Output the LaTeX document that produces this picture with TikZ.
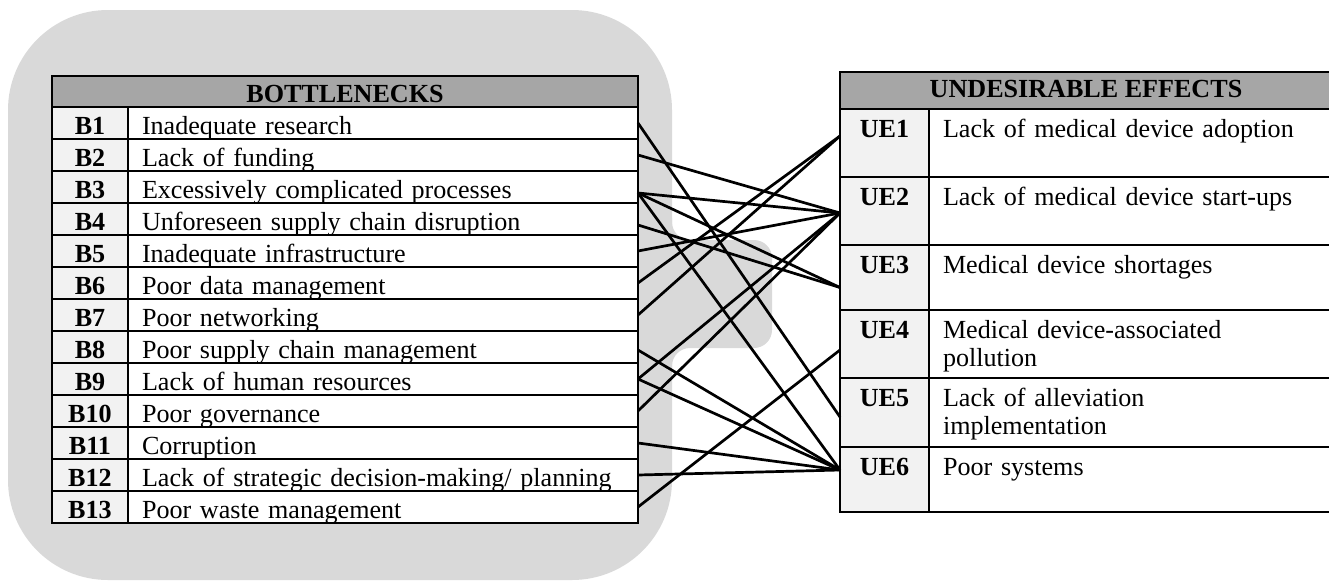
\documentclass[tikz,border=0pt]{standalone}
\usepackage{fontspec}
\setmainfont{Liberation Serif}
\definecolor{panelgray}{HTML}{D9D9D9}
\definecolor{headgray}{HTML}{A6A6A6}
\definecolor{idgray}{HTML}{F2F2F2}
\begin{document}
\begin{tikzpicture}[x=1pt,y=-1pt,
  txt/.style={font=\fontsize{26.1}{28.5}\selectfont},
  cell/.style={txt, draw=black, line width=2.5pt, anchor=north west,
    inner ysep=0pt, outer sep=0pt},
  headcell/.style={cell, fill=headgray, inner xsep=0pt,
    font=\fontsize{26.1}{28.5}\selectfont\bfseries},
  bid/.style={cell, fill=idgray, minimum width=76pt, inner xsep=0pt,
    text height=27pt, text depth=5pt, font=\fontsize{26.1}{28.5}\selectfont\bfseries},
  btext/.style={cell, fill=white, text width=482pt, inner xsep=14pt,
    text height=27pt, text depth=5pt, align=left},
  uid/.style={cell, fill=idgray, minimum width=89pt, inner xsep=0pt,
    text height=28pt, text depth=#1, font=\fontsize{26.1}{28.5}\selectfont\bfseries},
  utext/.style={cell, fill=white, text width=375pt, inner xsep=14pt,
    text height=28pt, text depth=#1, align=left},
  link/.style={draw=black, line width=2.7pt},
  panel/.style={fill=panelgray}
]
\useasboundingbox (0,0) rectangle (1329,584);
\clip (0,0) rectangle (1329,584);

% grey panel behind the bottleneck table, with a small tab on its right side
\fill[panel, rounded corners=100pt] (8,10) rectangle (672,580);
\fill[panel, rounded corners=18pt] (640,200) -- (672,200) -- (672,240)
  -- (772,240) -- (772,348) -- (672,348) -- (672,388) -- (640,388) -- cycle;

% bottlenecks table
\node[headcell, minimum width=586pt, text height=26pt, text depth=5pt] (bhead) at (52,76) {BOTTLENECKS};
\foreach \t [count=\i] in {Inadequate research, Lack of funding,
  Excessively complicated processes, Unforeseen supply chain disruption,
  Inadequate infrastructure, Poor data management, Poor networking,
  Poor supply chain management, Lack of human resources, Poor governance,
  Corruption, Lack of strategic decision-making/ planning, Poor waste management}{
  \node[bid] (bid\i) at (52,{107+32*(\i-1)}) {B\i};
  \node[btext] (b\i) at (128,{107+32*(\i-1)}) {\t};
}

% undesirable effects table
\node[headcell, minimum width=492pt, text height=25pt, text depth=12pt] (uhead) at (840,72) {UNDESIRABLE EFFECTS};
\node[uid=40pt] (ue1) at (840,109) {UE1};
\node[utext=40pt] (ue1t) at (929,109) {Lack of medical device adoption};
\node[uid=40pt] (ue2) at (840,177) {UE2};
\node[utext=40pt] (ue2t) at (929,177) {Lack of medical device start-ups};
\node[uid=37pt] (ue3) at (840,245) {UE3};
\node[utext=37pt] (ue3t) at (929,245) {Medical device shortages};
\node[uid=40pt] (ue4) at (840,310) {UE4};
\node[utext=40pt] (ue4t) at (929,310) {Medical device-associated\\pollution};
\node[uid=41pt] (ue5) at (840,378) {UE5};
\node[utext=41pt] (ue5t) at (929,378) {Lack of alleviation\\implementation};
\node[uid=37pt] (ue6) at (840,447) {UE6};
\node[utext=37pt] (ue6t) at (929,447) {Poor systems};

% links from bottlenecks to the effects they cause
\draw[link] (b1.east) -- ([yshift=-4.5pt]ue5.west);
\draw[link] (b2.east) -- ([yshift=-2pt]ue2.west);
\draw[link] ([yshift=-6pt]b3.east) -- ([yshift=-2pt]ue2.west);
\draw[link] ([yshift=-6pt]b3.east) -- ([yshift=-10pt]ue3.west);
\draw[link] ([yshift=-6pt]b3.east) -- ([yshift=9.5pt]ue6.west);
\draw[link] ([yshift=-6pt]b4.east) -- ([yshift=-10pt]ue3.west);
\draw[link] (b5.east) -- ([yshift=-2pt]ue2.west);
\draw[link] (b6.east) -- ([yshift=7pt]ue1.west);
\draw[link] (b7.east) -- ([yshift=7pt]ue1.west);
\draw[link] ([yshift=-3pt]b8.east) -- ([yshift=9.5pt]ue6.west);
\draw[link] (b9.east) -- ([yshift=-2pt]ue2.west);
\draw[link] (b9.east) -- ([yshift=9.5pt]ue6.west);
\draw[link] (b10.east) -- ([yshift=-2pt]ue2.west);
\draw[link] (b11.east) -- ([yshift=9.5pt]ue6.west);
\draw[link] (b12.east) -- ([yshift=9.5pt]ue6.west);
\draw[link] (b13.east) -- ([yshift=-6pt]ue4.west);
\end{tikzpicture}
\end{document}
